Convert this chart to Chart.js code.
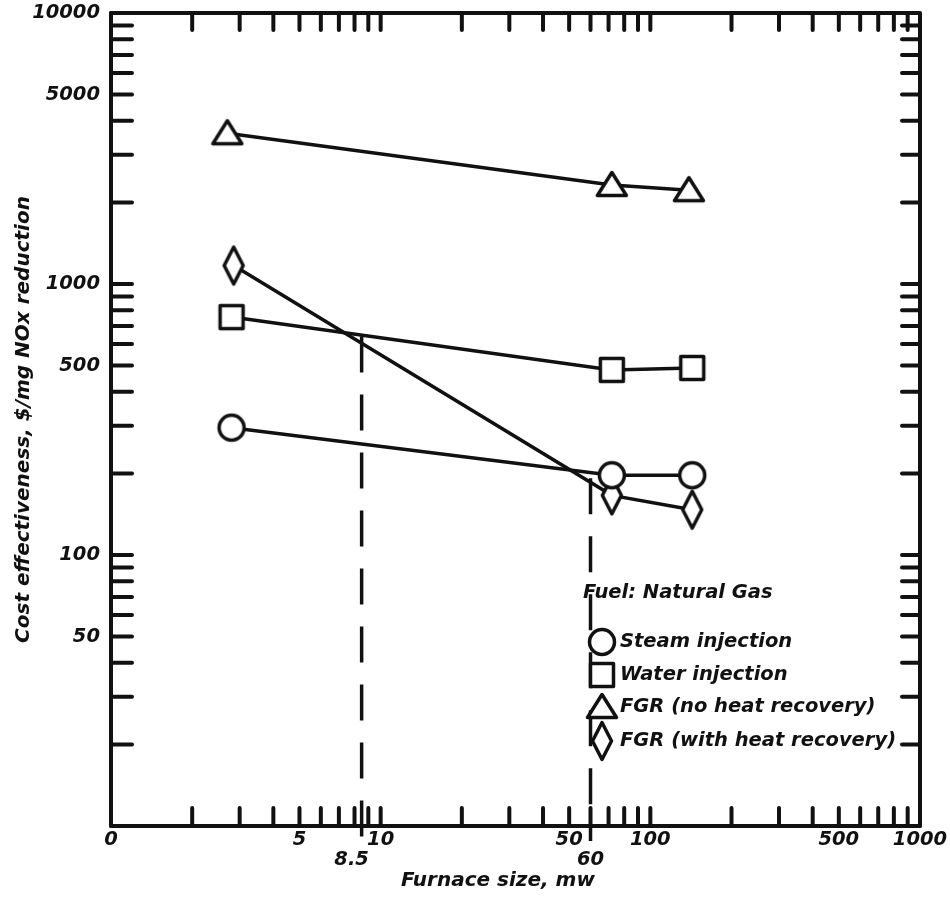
<!DOCTYPE html>
<html>
<head>
<meta charset="utf-8">
<script src="https://cdn.jsdelivr.net/npm/chart.js@4.4.0/dist/chart.umd.min.js"></script>
<style>
    body { margin: 0; background: #fff; }
    canvas { display: block; }
</style>
</head>
<body>
<canvas id="chart" width="950" height="905"></canvas>
<script>
// furnace size (mw) and cost effectiveness ($/mg NOx) per technique
const steamX = [2.8, 72, 143];
const steamY = [295, 197, 197];
const waterX = [2.8, 72, 143];
const waterY = [755, 482, 490];
const fgrX = [2.7, 72, 139];
const fgrY = [3600, 2320, 2220];
const fgrHeatX = [2.85, 72, 143];
const fgrHeatY = [1170, 166, 147];

// break-even lines (dashed)
const breakX = [8.5, 60];
const breakTop = [640, 192];
const breakBottom = [8.5, 8.8];
const breakLabels = ["8.5", "60"];

const xTickValues = [1, 5, 10, 50, 100, 500, 1000];
const xTickLabels = ["0", "5", "10", "50", "100", "500", "1000"];
const yTickValues = [50, 100, 500, 1000, 5000, 10000];
const yTickLabels = ["50", "100", "500", "1000", "5000", "10000"];

const legendLabels = ["Steam injection", "Water injection", "FGR (no heat recovery)", "FGR (with heat recovery)"];

const INK = "#111";
const FONT = "'DejaVu Sans', sans-serif";

function makeMarker(shape) {
    const c = document.createElement("canvas");
    c.width = 38;
    c.height = 46;
    const g = c.getContext("2d");
    g.translate(19, 23);
    g.lineWidth = 3.5;
    g.lineJoin = "round";
    g.strokeStyle = INK;
    g.fillStyle = "#fff";
    g.beginPath();
    if (shape === "circle") {
        g.arc(0, 0, 12.5, 0, Math.PI * 2);
    } else if (shape === "square") {
        g.rect(-11.5, -11.5, 23, 23);
    } else if (shape === "triangle") {
        g.moveTo(0, -12.5);
        g.lineTo(14.5, 10.5);
        g.lineTo(-14.5, 10.5);
        g.closePath();
    } else {
        g.moveTo(0, -18.5);
        g.lineTo(9.5, 0);
        g.lineTo(0, 18.5);
        g.lineTo(-9.5, 0);
        g.closePath();
    }
    g.fill();
    g.stroke();
    return c;
}

const markers = {
    circle: makeMarker("circle"),
    square: makeMarker("square"),
    triangle: makeMarker("triangle"),
    diamond: makeMarker("diamond")
};

function points(xs, ys) {
    return xs.map((x, i) => ({ x: x, y: ys[i] }));
}

function series(label, xs, ys, marker) {
    return {
        label: label,
        data: points(xs, ys),
        borderColor: INK,
        borderWidth: 3.5,
        pointStyle: marker,
        tension: 0,
        fill: false,
        order: 1
    };
}

const breakSets = breakX.map((x, i) => ({
    label: "break " + breakLabels[i],
    data: [{ x: x, y: breakTop[i] }, { x: x, y: breakBottom[i] }],
    borderColor: INK,
    borderWidth: 3.5,
    borderDash: [36, 22],
    pointRadius: 0,
    clip: false,
    order: 5
}));

function decadeTicks(start, end) {
    const out = [];
    for (let d = start; d < end; d *= 10) {
        for (let m = 1; m <= 9; m++) out.push(d * m);
    }
    return out;
}

const frame = {
    id: "frame",
    afterDraw(chart) {
        const { ctx, chartArea: a, scales: { x, y } } = chart;
        ctx.save();
        ctx.strokeStyle = INK;
        ctx.fillStyle = INK;
        ctx.lineWidth = 4;
        ctx.lineCap = "round";
        ctx.lineJoin = "round";
        ctx.strokeRect(a.left, a.top, a.right - a.left, a.bottom - a.top);

        ctx.beginPath();
        decadeTicks(1, 1000).forEach(v => {
            const px = x.getPixelForValue(v);
            ctx.moveTo(px, a.bottom); ctx.lineTo(px, a.bottom - 18);
            ctx.moveTo(px, a.top); ctx.lineTo(px, a.top + 17);
        });
        decadeTicks(10, 10000).forEach(v => {
            const py = y.getPixelForValue(v);
            ctx.moveTo(a.left, py); ctx.lineTo(a.left + 21, py);
            ctx.moveTo(a.right, py); ctx.lineTo(a.right - 18, py);
        });
        ctx.stroke();

        // labels under the break-even lines
        ctx.font = "italic bold 19.5px " + FONT;
        ctx.textAlign = "center";
        ctx.textBaseline = "middle";
        ctx.fillText(breakLabels[0], x.getPixelForValue(breakX[0]) - 10, 860);
        ctx.fillText(breakLabels[1], x.getPixelForValue(breakX[1]), 860);

        // axis titles
        ctx.font = "italic bold 20px " + FONT;
        ctx.fillText("Furnace size, mw", 498, 881);
        ctx.save();
        ctx.translate(24, (a.top + a.bottom) / 2);
        ctx.rotate(-Math.PI / 2);
        ctx.fillText("Cost effectiveness, $/mg NOx reduction", 0, 0);
        ctx.restore();

        // legend
        ctx.textAlign = "left";
        ctx.font = "italic bold 19.5px " + FONT;
        ctx.fillText("Fuel: Natural Gas", 583, 593);
        const icons = [markers.circle, markers.square, markers.triangle, markers.diamond];
        const rows = [642, 675, 707, 741];
        legendLabels.forEach((t, i) => {
            const img = icons[i];
            ctx.drawImage(img, 602 - img.width / 2, rows[i] - img.height / 2);
            ctx.fillText(t, 620, rows[i]);
        });
        ctx.restore();
    }
};

const tickFont = { family: FONT, size: 19.5, style: "italic", weight: "bold" };

new Chart(document.getElementById("chart"), {
    type: "line",
    data: {
        datasets: [
            series("Steam injection", steamX, steamY, markers.circle),
            series("Water injection", waterX, waterY, markers.square),
            series("FGR (no heat recovery)", fgrX, fgrY, markers.triangle),
            series("FGR (with heat recovery)", fgrHeatX, fgrHeatY, markers.diamond),
            ...breakSets
        ]
    },
    options: {
        responsive: false,
        animation: false,
        events: [],
        layout: { padding: { top: 13, right: 30, left: 0, bottom: 0 } },
        plugins: {
            legend: { display: false },
            tooltip: { enabled: false }
        },
        scales: {
            x: {
                type: "logarithmic",
                min: 1,
                max: 1000,
                afterFit: s => {
                    s.height = 79;
                    s.paddingLeft = 0;
                    s.paddingRight = 0;
                },
                afterBuildTicks: s => { s.ticks = xTickValues.map(v => ({ value: v })); },
                grid: { display: false, drawTicks: false },
                border: { display: false },
                ticks: {
                    color: INK,
                    font: tickFont,
                    padding: 2,
                    maxRotation: 0,
                    autoSkip: false,
                    callback: (v, i) => xTickLabels[i]
                }
            },
            y: {
                type: "logarithmic",
                min: 10,
                max: 10000,
                afterFit: s => {
                    s.width = 111;
                    s.paddingTop = 0;
                    s.paddingBottom = 0;
                },
                afterBuildTicks: s => { s.ticks = yTickValues.map(v => ({ value: v })); },
                grid: { display: false, drawTicks: false },
                border: { display: false },
                ticks: {
                    color: INK,
                    font: tickFont,
                    padding: 11,
                    autoSkip: false,
                    callback: (v, i) => yTickLabels[i]
                }
            }
        }
    },
    plugins: [frame]
});
</script>
</body>
</html>
